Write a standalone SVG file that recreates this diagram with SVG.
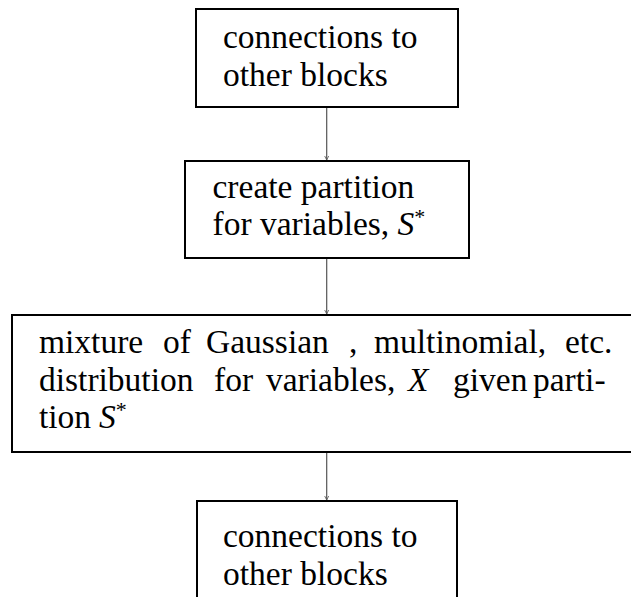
<svg xmlns="http://www.w3.org/2000/svg" width="631" height="597" viewBox="0 0 631 597">
  <style>
    .box { fill: #ffffff; stroke: #000000; stroke-width: 2; }
    .lbl { font-family: "Liberation Serif", "DejaVu Serif", serif; font-size: 33.5px; fill: #000000; }
    .it { font-style: italic; }
    .sup { font-size: 22px; }
    .edge { stroke: #555555; stroke-width: 1.2; fill: none; marker-end: url(#tip); }
  </style>
  <defs>
    <marker id="tip" viewBox="0 0 10 10" refX="9" refY="5" markerWidth="5" markerHeight="5" markerUnits="userSpaceOnUse" orient="auto">
      <path d="M1,1 L9,5 L1,9" fill="none" stroke="#555555" stroke-width="1.6"/>
    </marker>
  </defs>

  <g id="connectors">
    <line class="edge" x1="326.7" y1="107" x2="326.7" y2="160"/>
    <line class="edge" x1="326.7" y1="258" x2="326.7" y2="314"/>
    <line class="edge" x1="326.7" y1="452" x2="326.7" y2="500"/>
  </g>

  <g id="node-top">
    <rect class="box" x="196" y="9" width="262" height="98"/>
    <text class="lbl" x="223" y="48">connections to</text>
    <text class="lbl" x="223" y="86">other blocks</text>
  </g>

  <g id="node-partition">
    <rect class="box" x="185" y="161" width="284" height="97"/>
    <text class="lbl" x="212.5" y="198">create partition</text>
    <text class="lbl" x="212.5" y="235">for variables, <tspan class="it">S</tspan><tspan class="sup" dy="-11">*</tspan></text>
  </g>

  <g id="node-mixture">
    <rect class="box" x="12" y="315" width="640" height="137"/>
    <text class="lbl" y="353"><tspan x="39">mixture</tspan><tspan x="163">of</tspan><tspan x="206">Gaussian</tspan><tspan x="349">,</tspan><tspan x="374">multinomial,</tspan><tspan x="565">etc.</tspan></text>
    <text class="lbl" y="391"><tspan x="39">distribution</tspan><tspan x="214">for</tspan><tspan x="266">variables,</tspan><tspan x="408" class="it">X</tspan><tspan x="453">given</tspan><tspan x="533">parti-</tspan></text>
    <text class="lbl" y="428"><tspan x="39">tion</tspan><tspan x="99" class="it">S</tspan><tspan class="sup" dy="-11">*</tspan></text>
  </g>

  <g id="node-bottom">
    <rect class="box" x="197" y="501" width="260" height="110"/>
    <text class="lbl" x="223" y="547">connections to</text>
    <text class="lbl" x="223" y="585">other blocks</text>
  </g>
</svg>
